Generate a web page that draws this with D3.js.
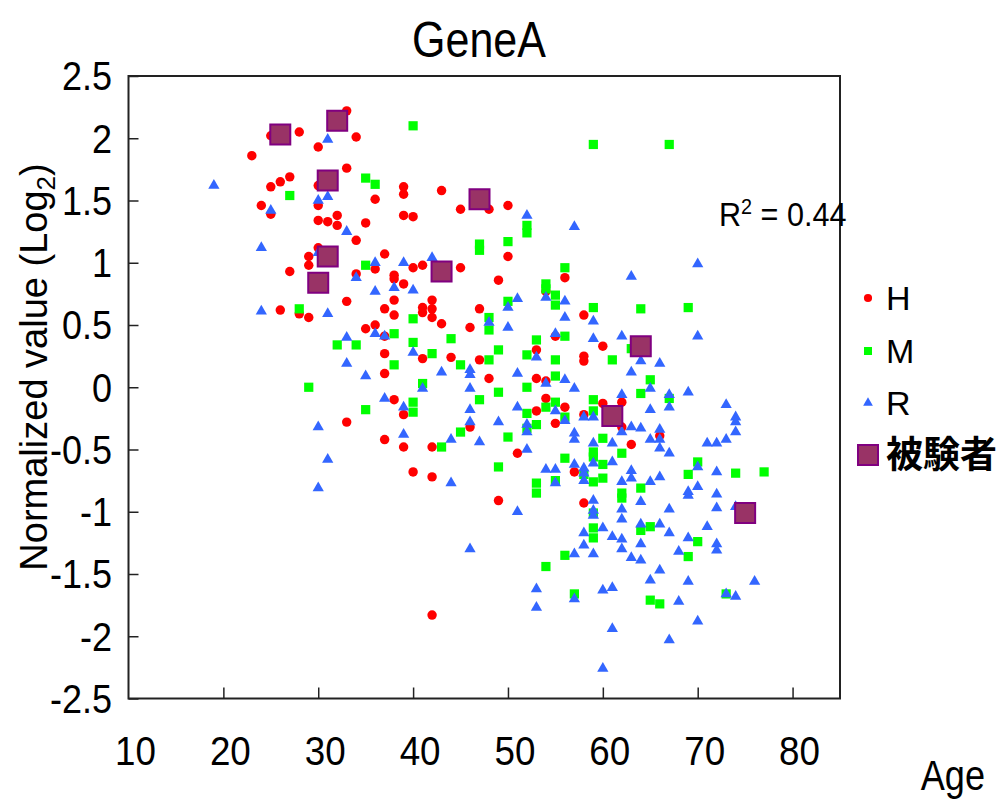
<!DOCTYPE html>
<html>
<head>
<meta charset="utf-8">
<script src="https://cdn.jsdelivr.net/npm/d3@7"></script>
<style>
    body { margin: 0; background: #fff; }
    text { font-family: "Liberation Sans", Arial, sans-serif; fill: #000; }
    .cjk { font-family: "Noto Sans CJK JP", sans-serif; font-weight: bold; }
</style>
</head>
<body>
<div class="chart"></div>
<script>

// Data: [age, normalized value]
var hPoints = [
    [33,2.22],[34,2.01],[28,2.05],[25,2.02],[30,1.93],[23,1.86],[33,1.76],[27,1.69],[26,1.65],[25,1.61],
    [30,1.62],[30,1.46],[24,1.46],[25,1.39],[32,1.38],[30,1.34],[31,1.33],[32,1.30],[35,1.32],[34,1.18],
    [30,1.12],[29,1.05],[29,0.98],[27,0.93],[34,0.91],[26,0.62],[28,0.59],[29,0.56],[33,0.69],[35,0.47],
    [33,-0.28],[39,1.61],[39,1.55],[36,1.51],[43,1.58],[45,1.43],[48,1.43],[50,1.46],[39,1.38],[40,1.37],
    [37,1.07],[50,1.05],[36,0.95],[40,0.96],[41,0.98],[45,0.96],[38,0.90],[38,0.87],[39,0.83],[49,0.86],
    [56,0.88],[54,0.77],[38,0.70],[42,0.70],[37,0.63],[41,0.64],[41,0.60],[42,0.63],[47,0.63],[38,0.58],
    [42,0.56],[58,0.58],[43,0.51],[46,0.48],[36,0.50],[37,0.41],[53,0.30],[55,0.41],[60,0.33],[37,0.27],
    [41,0.23],[44,0.24],[47,0.22],[58,0.25],[58,0.21],[37,0.11],[48,0.07],[53,0.07],[54,0.05],[38,-0.10],
    [39,-0.22],[54,-0.09],[56,-0.16],[53,-0.19],[60,-0.13],[58,-0.22],[55,-0.29],[46,-0.32],[37,-0.42],[39,-0.48],
    [42,-0.48],[51,-0.53],[57,-0.68],[40,-0.68],[42,-0.72],[49,-0.91],[58,-0.93],[42,-1.83],[62,-0.12],[62,-0.32],
    [66,-0.39],[63,-0.46]
];

var mPoints = [
    [35,1.68],[27,1.54],[35,0.98],[28,0.63],[32,0.34],[34,0.34],[29,0.00],[35,-0.18],[40,2.10],[59,1.95],
    [36,1.63],[52,1.30],[52,1.24],[50,1.17],[47,1.15],[47,1.10],[56,0.96],[54,0.83],[67,1.95],[54,0.79],
    [55,0.74],[55,0.66],[50,0.69],[59,0.64],[40,0.55],[48,0.56],[48,0.46],[38,0.43],[40,0.36],[44,0.39],
    [53,0.38],[56,0.41],[49,0.30],[42,0.27],[52,0.26],[48,0.22],[38,0.18],[45,0.18],[55,0.22],[55,0.09],
    [41,0.03],[52,0.00],[49,-0.04],[47,-0.10],[40,-0.12],[40,-0.20],[55,-0.12],[54,-0.16],[59,-0.10],[59,-0.19],
    [52,-0.21],[56,-0.24],[45,-0.36],[53,-0.30],[52,-0.33],[50,-0.40],[43,-0.48],[59,-0.52],[59,-0.56],[60,-0.41],
    [60,-0.62],[56,-0.57],[58,-0.70],[49,-0.64],[53,-0.77],[55,-0.75],[59,-0.76],[60,-0.73],[53,-0.85],[59,-1.01],
    [59,-1.13],[59,-1.21],[56,-1.35],[54,-1.44],[57,-1.66],[64,0.63],[69,0.64],[63,0.31],[61,0.22],[65,0.06],
    [64,-0.05],[67,-0.09],[62,-0.53],[70,-0.60],[69,-0.70],[74,-0.69],[77,-0.68],[64,-0.81],[62,-0.85],[62,-0.89],
    [64,-1.15],[65,-1.12],[70,-1.24],[69,-1.36],[73,-1.66],[65,-1.71],[66,-1.74]
];

var rPoints = [
    [31,1.99],[19,1.62],[30,1.50],[31,1.53],[25,1.42],[33,1.25],[24,1.12],[30,1.08],[34,0.88],[24,0.61],
    [31,0.59],[33,0.40],[33,0.19],[35,0.09],[30,-0.32],[31,-0.58],[30,-0.81],[52,1.38],[57,1.29],[36,1.00],
    [39,1.00],[42,1.04],[70,0.99],[63,0.89],[36,0.77],[38,0.80],[40,0.78],[54,0.72],[56,0.69],[51,0.71],
    [50,0.64],[56,0.56],[48,0.52],[50,0.48],[59,0.53],[36,0.43],[37,0.41],[55,0.43],[59,0.39],[40,0.28],
    [53,0.24],[43,0.12],[46,0.14],[46,0.10],[51,0.11],[54,0.03],[56,0.06],[57,-0.01],[41,-0.01],[46,-0.01],
    [37,-0.09],[39,-0.16],[51,-0.16],[55,-0.19],[46,-0.18],[58,-0.24],[59,-0.24],[56,-0.27],[49,-0.28],[46,-0.28],
    [52,-0.30],[52,-0.36],[57,-0.37],[57,-0.42],[39,-0.38],[44,-0.42],[47,-0.44],[52,-0.50],[59,-0.45],[59,-0.61],
    [57,-0.62],[58,-0.65],[58,-0.69],[58,-0.75],[54,-0.66],[55,-0.66],[44,-0.77],[55,-0.77],[51,-1.00],[59,-0.91],
    [59,-0.99],[59,-1.03],[60,-1.13],[58,-1.17],[58,-1.27],[46,-1.30],[57,-1.34],[59,-1.34],[53,-1.62],[53,-1.77],
    [57,-1.70],[60,-1.63],[60,-2.26],[62,0.41],[70,0.41],[64,0.21],[66,0.19],[63,0.12],[65,-0.01],[62,-0.06],
    [69,-0.04],[67,-0.06],[67,-0.16],[65,-0.18],[63,-0.32],[64,-0.33],[62,-0.36],[66,-0.34],[66,-0.42],[65,-0.42],
    [73,-0.14],[74,-0.24],[74,-0.28],[74,-0.36],[73,-0.42],[71,-0.45],[72,-0.45],[61,-0.45],[66,-0.49],[67,-0.53],
    [61,-0.60],[70,-0.64],[63,-0.67],[63,-0.73],[62,-0.76],[65,-0.76],[66,-0.72],[72,-0.68],[70,-0.80],[69,-0.84],
    [72,-0.86],[64,-0.92],[69,-0.87],[62,-0.98],[62,-1.06],[67,-0.98],[72,-0.97],[74,-0.96],[64,-1.10],[66,-1.10],
    [71,-1.12],[61,-1.20],[62,-1.22],[62,-1.30],[64,-1.26],[67,-1.17],[69,-1.21],[72,-1.26],[72,-1.31],[68,-1.32],
    [63,-1.37],[64,-1.39],[66,-1.47],[65,-1.55],[69,-1.56],[76,-1.56],[61,-1.61],[73,-1.66],[74,-1.68],[68,-1.72],
    [70,-1.88],[61,-1.94],[67,-2.03]
];

var subjectPoints = [
    [26,2.03],[32,2.14],[31,1.66],[47,1.51],[31,1.05],[43,0.93],[30,0.84],[64,0.33],[61,-0.23],[75,-1.01]
];

var xTicks = [10, 20, 30, 40, 50, 60, 70, 80];
var yTicks = [2.5, 2, 1.5, 1, 0.5, 0, -0.5, -1, -1.5, -2, -2.5];
var legendLabels = ["H", "M", "R", "被験者"];
var rSquared = "0.44";

var width = 998, height = 801;
var plot = { left: 128.5, right: 840, top: 76, bottom: 698.5 };

var svg = d3.select(".chart")
    .append("svg")
        .attr("width", width)
        .attr("height", height);

var x = d3.scaleLinear()
    .domain([10, 85])
    .range([plot.left, plot.right]);

var y = d3.scaleLinear()
    .domain([-2.5, 2.5])
    .range([plot.bottom, plot.top]);

// Text squeezed sideways, the original font is a narrow one
function narrowText(px, py, sx) {
    return svg.append("text")
        .attr("transform", "translate(" + px + "," + py + ") scale(" + sx + ",1)");
}

// Plot frame
svg.append("rect")
    .attr("x", plot.left)
    .attr("y", plot.top)
    .attr("width", plot.right - plot.left)
    .attr("height", plot.bottom - plot.top)
    .style("fill", "none")
    .style("stroke", "#222")
    .style("stroke-width", 2);

// Axes with inward ticks, labels drawn separately
var yAxis = d3.axisLeft(y).tickValues(yTicks).tickSize(-10).tickFormat("");
var xAxis = d3.axisBottom(x).tickValues(xTicks.slice(1)).tickSize(-11).tickFormat("");

svg.append("g")
    .attr("transform", "translate(" + plot.left + ",0)")
    .call(yAxis)
    .call(function(g) { g.select(".domain").remove(); })
    .selectAll("line").style("stroke", "#222").style("stroke-width", 1.5);

svg.append("g")
    .attr("transform", "translate(0," + plot.bottom + ")")
    .call(xAxis)
    .call(function(g) { g.select(".domain").remove(); })
    .selectAll("line").style("stroke", "#222").style("stroke-width", 1.5);

svg.selectAll(".ylab")
    .data(yTicks)
    .enter().append("text")
        .attr("class", "ylab")
        .attr("transform", function(d) { return "translate(112," + y(d) + ") scale(0.9,1)"; })
        .attr("dy", "0.36em")
        .attr("text-anchor", "end")
        .style("font-size", "40px")
        .text(function(d) { return d; });

svg.selectAll(".xlab")
    .data(xTicks)
    .enter().append("text")
        .attr("class", "xlab")
        .attr("transform", function(d) { return "translate(" + (x(d) + 7) + ",765) scale(0.92,1)"; })
        .attr("text-anchor", "middle")
        .style("font-size", "40px")
        .text(function(d) { return d; });

// Titles
narrowText(479, 57, 0.86)
    .attr("text-anchor", "middle")
    .style("font-size", "50px")
    .text("GeneA");

narrowText(985, 790, 0.86)
    .attr("text-anchor", "end")
    .style("font-size", "42px")
    .text("Age");

var yTitle = svg.append("text")
    .attr("transform", "translate(47,367) rotate(-90)")
    .attr("text-anchor", "middle")
    .style("font-size", "38px");
yTitle.append("tspan").text("Normalized value (Log");
yTitle.append("tspan").attr("dy", 8).style("font-size", "26px").text("2");
yTitle.append("tspan").attr("dy", -8).text(")");

var rText = narrowText(719, 226, 0.9)
    .style("font-size", "34px");
rText.append("tspan").text("R");
rText.append("tspan").attr("dy", -12).style("font-size", "22px").text("2");
rText.append("tspan").attr("dy", 12).text(" = " + rSquared);

// Marker styles per series
var series = [
    { points: hPoints, shape: d3.symbolCircle, size: 70, fill: "#ff0000", stroke: "none" },
    { points: mPoints, shape: d3.symbolSquare, size: 85, fill: "#00ff00", stroke: "none" },
    { points: rPoints, shape: d3.symbolTriangle, size: 55, fill: "#3366ff", stroke: "none" },
    { points: subjectPoints, shape: d3.symbolSquare, size: 400, fill: "#993366", stroke: "#800080" }
];

series.forEach(function(s) {
    svg.append("g")
        .selectAll("path")
        .data(s.points)
        .enter().append("path")
            .attr("transform", function(d) { return "translate(" + x(d[0]) + "," + y(d[1]) + ")"; })
            .attr("d", d3.symbol(s.shape, s.size))
            .style("fill", s.fill)
            .style("stroke", s.stroke)
            .style("stroke-width", 2);
});

// Legend
var legendY = [298, 351, 403, 455];
var legend = svg.selectAll(".legend")
    .data(series)
    .enter().append("g")
        .attr("class", "legend")
        .attr("transform", function(d, i) { return "translate(0," + legendY[i] + ")"; });

legend.append("path")
    .attr("transform", "translate(868,0)")
    .attr("d", function(d, i) { return d3.symbol(d.shape, i === 3 ? 400 : d.size * 0.75)(); })
    .style("fill", function(d) { return d.fill; })
    .style("stroke", function(d) { return d.stroke; })
    .style("stroke-width", 2);

legend.append("text")
    .attr("class", function(d, i) { return i === 3 ? "cjk" : null; })
    .attr("x", 886)
    .attr("dy", "0.36em")
    .style("font-size", function(d, i) { return i === 3 ? "37px" : "34px"; })
    .text(function(d, i) { return legendLabels[i]; });

</script>
</body>
</html>
